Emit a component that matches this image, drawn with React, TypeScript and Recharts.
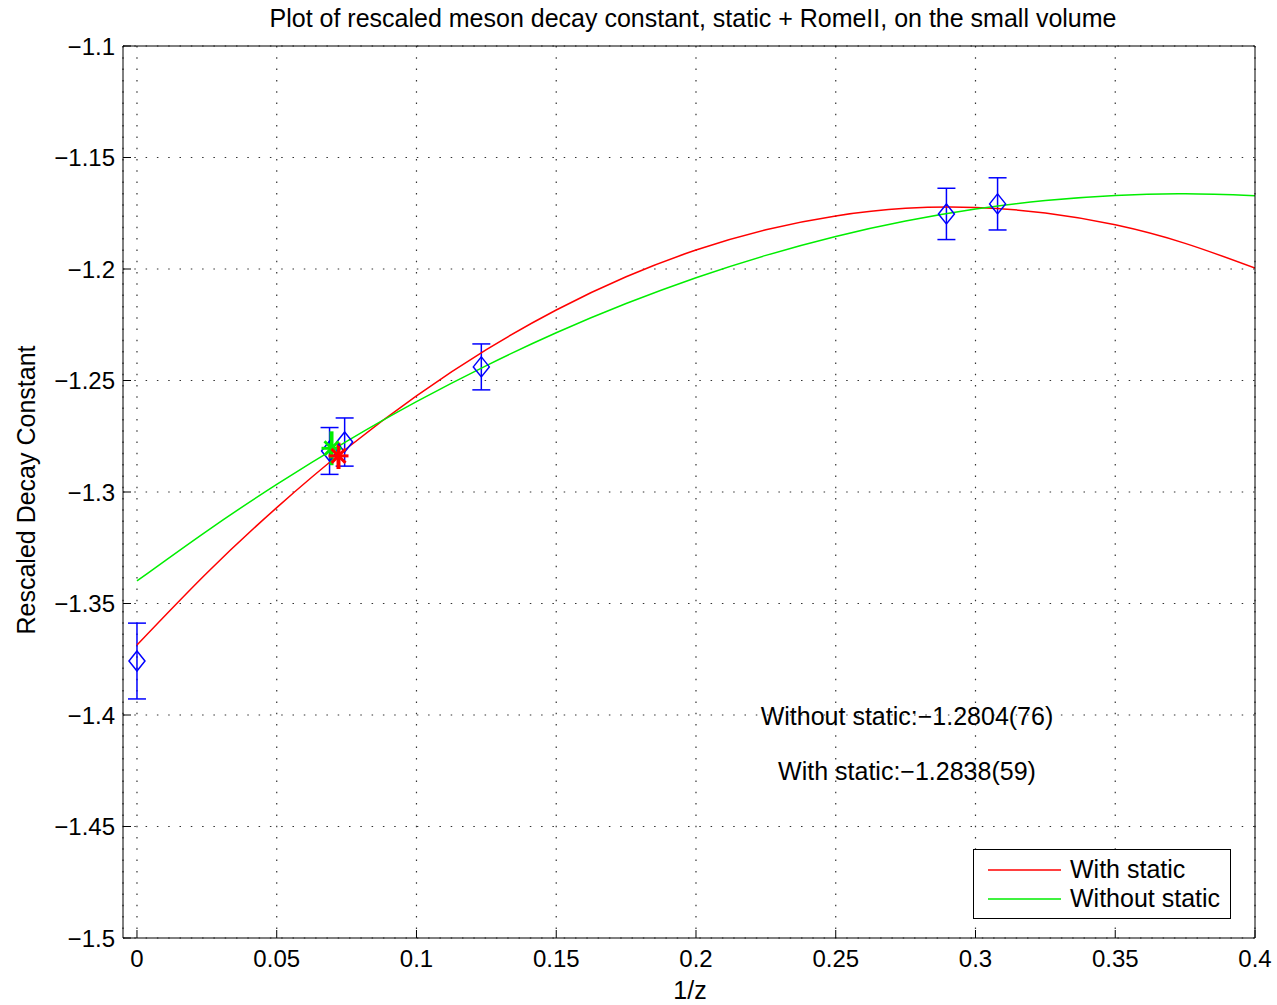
import {
  ComposedChart,
  Line,
  Scatter,
  ErrorBar,
  XAxis,
  YAxis,
  CartesianGrid
} from "recharts";

const FONT = '"Liberation Sans", Arial, Helvetica, sans-serif';

const xTicks = [0, 0.05, 0.1, 0.15, 0.2, 0.25, 0.3, 0.35, 0.4];
const yTicks = [-1.5, -1.45, -1.4, -1.35, -1.3, -1.25, -1.2, -1.15, -1.1];

// fitted curves, every 0.025 in 1/z
const curveX = [0, 0.025, 0.05, 0.075, 0.1, 0.125, 0.15, 0.175, 0.2, 0.225, 0.25, 0.275, 0.3, 0.325, 0.35, 0.375, 0.4];
const withStaticY = [-1.3686, -1.3363, -1.307, -1.2805, -1.2569, -1.2362, -1.2184, -1.2035, -1.1915, -1.1824, -1.1762, -1.1728, -1.1724, -1.1749, -1.1802, -1.1885, -1.1996];
const withoutStaticY = [-1.3399, -1.3175, -1.2966, -1.2773, -1.2595, -1.2433, -1.2286, -1.2155, -1.2039, -1.1939, -1.1854, -1.1785, -1.1731, -1.1693, -1.167, -1.1663, -1.1671];

// measured points
const pointX = [0, 0.0689, 0.0743, 0.1232, 0.2896, 0.3079];
const pointY = [-1.3758, -1.2816, -1.2776, -1.2439, -1.1753, -1.1708];
const pointErr = [0.017, 0.0105, 0.0108, 0.0103, 0.0115, 0.0117];

// extrapolated results
const withStaticRes = { x: 0.0721, y: -1.2838, err: 0.0059 };
const withoutStaticRes = { x: 0.0696, y: -1.2804, err: 0.0076 };

const seriesNames = ["With static", "Without static"];
const seriesColors = ["#ff0000", "#00ee00"];

const redCurve = curveX.map((x, i) => ({ x, y: withStaticY[i] }));
const greenCurve = curveX.map((x, i) => ({ x, y: withoutStaticY[i] }));
const points = pointX.map((x, i) => ({ x, y: pointY[i], err: pointErr[i] }));

const fmt = (v: number) => String(v).replace("-", "\u2212");

function Diamond(props: any) {
  const { cx, cy } = props;
  if (cx == null || cy == null) return null;
  const pts = `${cx},${cy - 10} ${cx + 8},${cy} ${cx},${cy + 10} ${cx - 8},${cy}`;
  return <polygon points={pts} fill="none" stroke="#0000ff" strokeWidth={1.5} />;
}

function makeStar(color: string) {
  return (props: any) => {
    const { cx, cy } = props;
    if (cx == null || cy == null) return null;
    const r = 10;
    const d = 7;
    return (
      <g stroke={color} strokeWidth={3}>
        <line x1={cx - r} y1={cy} x2={cx + r} y2={cy} />
        <line x1={cx} y1={cy - r} x2={cx} y2={cy + r} />
        <line x1={cx - d} y1={cy - d} x2={cx + d} y2={cy + d} />
        <line x1={cx - d} y1={cy + d} x2={cx + d} y2={cy - d} />
      </g>
    );
  };
}

const textBase = {
  position: "absolute" as const,
  fontFamily: FONT,
  fontSize: 25,
  color: "#000",
  whiteSpace: "nowrap" as const,
  lineHeight: "28px"
};

export default function App() {
  const tickStyle = { fill: "#000", fontSize: 24, fontFamily: FONT };

  return (
    <div style={{ position: "absolute", left: 0, top: 0, width: 1277, height: 1005, background: "#fff" }}>
      <ComposedChart
        width={1277}
        height={1005}
        margin={{ top: 45, right: 21, bottom: 27, left: 23 }}
      >
        <CartesianGrid
          xAxisId="b"
          yAxisId="l"
          stroke="#333"
          strokeDasharray="1.5 9.8"
          strokeWidth={1.2}
        />
        <XAxis
          xAxisId="b"
          dataKey="x"
          type="number"
          domain={[-0.005, 0.4]}
          ticks={xTicks}
          allowDataOverflow
          height={40}
          stroke="#000"
          tickSize={-8}
          tickMargin={20}
          tick={tickStyle}
          tickFormatter={fmt}
        />
        <XAxis
          xAxisId="t"
          orientation="top"
          dataKey="x"
          type="number"
          domain={[-0.005, 0.4]}
          ticks={xTicks}
          allowDataOverflow
          height={1}
          stroke="#000"
          tickSize={-8}
          tick={false}
        />
        <YAxis
          yAxisId="l"
          dataKey="y"
          type="number"
          domain={[-1.5, -1.1]}
          ticks={yTicks}
          allowDataOverflow
          width={100}
          stroke="#000"
          tickSize={-8}
          tickMargin={16}
          tick={tickStyle}
          tickFormatter={fmt}
        />
        <YAxis
          yAxisId="r"
          orientation="right"
          dataKey="y"
          type="number"
          domain={[-1.5, -1.1]}
          ticks={yTicks}
          allowDataOverflow
          width={1}
          stroke="#000"
          tickSize={-8}
          tick={false}
        />
        <Scatter
          xAxisId="b"
          yAxisId="l"
          data={points}
          dataKey="y"
          shape={Diamond}
          legendType="none"
          isAnimationActive={false}
        >
          <ErrorBar dataKey="err" direction="y" width={9} stroke="#0000ff" strokeWidth={1.5} />
        </Scatter>
        <Line
          xAxisId="b"
          yAxisId="l"
          data={redCurve}
          dataKey="y"
          name={seriesNames[0]}
          type="natural"
          stroke={seriesColors[0]}
          strokeWidth={1.5}
          dot={false}
          isAnimationActive={false}
        />
        <Line
          xAxisId="b"
          yAxisId="l"
          data={greenCurve}
          dataKey="y"
          name={seriesNames[1]}
          type="natural"
          stroke={seriesColors[1]}
          strokeWidth={1.5}
          dot={false}
          isAnimationActive={false}
        />
        <Scatter
          xAxisId="b"
          yAxisId="l"
          data={[withoutStaticRes]}
          dataKey="y"
          shape={makeStar(seriesColors[1])}
          legendType="none"
          isAnimationActive={false}
        >
          <ErrorBar dataKey="err" direction="y" width={0} stroke={seriesColors[1]} strokeWidth={4} />
        </Scatter>
        <Scatter
          xAxisId="b"
          yAxisId="l"
          data={[withStaticRes]}
          dataKey="y"
          shape={makeStar(seriesColors[0])}
          legendType="none"
          isAnimationActive={false}
        >
          <ErrorBar dataKey="err" direction="y" width={0} stroke={seriesColors[0]} strokeWidth={4} />
        </Scatter>
      </ComposedChart>

      {/* legend box */}
      <div
        style={{
          position: "absolute",
          left: 973,
          top: 849,
          width: 258,
          height: 70,
          border: "1.5px solid #000",
          background: "#fff",
          fontFamily: FONT,
          fontSize: 25,
          boxSizing: "border-box",
          paddingTop: 5
        }}
      >
        {seriesNames.map((name, i) => (
          <div key={name} style={{ display: "flex", alignItems: "center", height: 29 }}>
            <svg width={96} height={10}>
              <line x1={14} y1={5} x2={87} y2={5} stroke={seriesColors[i]} strokeWidth={1.5} />
            </svg>
            <span style={{ lineHeight: "29px" }}>{name}</span>
          </div>
        ))}
      </div>

      <div style={{ ...textBase, left: 0, width: 1386, top: 4, textAlign: "center" }}>
        Plot of rescaled meson decay constant, static + RomeII, on the small volume
      </div>
      <div style={{ ...textBase, left: 590, width: 200, top: 976, textAlign: "center" }}>1/z</div>
      <div
        style={{
          ...textBase,
          left: 26 - 200,
          width: 400,
          top: 490 - 14,
          textAlign: "center",
          transform: "rotate(-90deg)"
        }}
      >
        Rescaled Decay Constant
      </div>
      <div style={{ ...textBase, left: 707, width: 400, top: 702, textAlign: "center" }}>
        Without static:{"\u2212"}1.2804(76)
      </div>
      <div style={{ ...textBase, left: 707, width: 400, top: 757, textAlign: "center" }}>
        With static:{"\u2212"}1.2838(59)
      </div>
    </div>
  );
}
